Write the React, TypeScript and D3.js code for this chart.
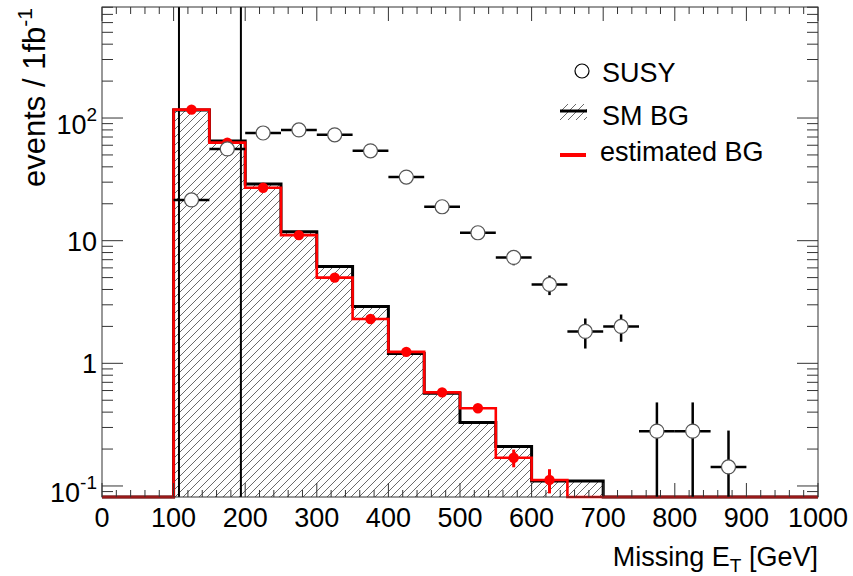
import React from "react";
import * as d3 from "d3";

const W = 853;
const H = 576;
const margin = { top: 7, right: 35, bottom: 79, left: 102 };
const plotW = W - margin.left - margin.right;
const plotH = H - margin.top - margin.bottom;

// 50 GeV bins, low edges
const binLow = [100, 150, 200, 250, 300, 350, 400, 450, 500, 550, 600, 650];
const binWidth = 50;
const smBG = [116, 65, 29, 11.8, 6.15, 2.9, 1.2, 0.57, 0.33, 0.21, 0.11, 0.11];
const estBG = [117, 63, 27, 11.1, 5.0, 2.3, 1.24, 0.58, 0.43, 0.17, 0.112, 0];
const estErr = [3, 2, 1.2, 0.6, 0.3, 0.15, 0.07, 0.04, 0.035, 0.028, 0.025, 0];

const susyX = [125, 175, 225, 275, 325, 375, 425, 475, 525, 575, 625, 675, 725, 775, 825, 875];
const susyY = [21.5, 56, 75.5, 80, 73, 54, 33, 18.9, 11.6, 7.3, 4.4, 1.82, 2.0, 0.28, 0.28, 0.143];
const susyErr = [1.7, 2.8, 3.2, 3.3, 3.2, 2.8, 2.2, 1.6, 1.3, 1.0, 0.8, 0.5, 0.5, 0.2, 0.2, 0.14];

// two long vertical error lines running off the top of the frame
const spikeX = [107.5, 194];

const xTickLabels = [0, 100, 200, 300, 400, 500, 600, 700, 800, 900, 1000];
const yTickLabels = [
  { v: 0.1, base: "10", sup: "-1" },
  { v: 1, base: "1", sup: "" },
  { v: 10, base: "10", sup: "" },
  { v: 100, base: "10", sup: "2" },
];

const x = d3.scaleLinear().domain([0, 1000]).range([margin.left, margin.left + plotW]);
const y = d3.scaleLog().domain([0.0813, 804]).range([margin.top + plotH, margin.top]);
const yMin = y.domain()[0];
const yBottom = margin.top + plotH;

function stepPath(values: number[]) {
  // outline over the full axis range, empty bins sit on the frame bottom
  const pts: [number, number][] = [];
  d3.range(0, 1000, binWidth).forEach((lo) => {
    const i = binLow.indexOf(lo);
    const v = i >= 0 && values[i] > 0 ? values[i] : yMin;
    pts.push([x(lo), y(v)]);
    pts.push([x(lo + binWidth), y(v)]);
  });
  return d3.line()(pts) as string;
}

function hatchPath() {
  const pts: [number, number][] = [];
  binLow.forEach((lo, i) => {
    pts.push([x(lo), y(smBG[i])]);
    pts.push([x(lo + binWidth), y(smBG[i])]);
  });
  return d3
    .area<[number, number]>()
    .x((d) => d[0])
    .y0(yBottom)
    .y1((d) => d[1])(pts) as string;
}

const font = "'Liberation Sans', Arial, Helvetica, sans-serif";
const tickColor = "#333";

export default function App() {
  const xMajor = d3.range(0, 1001, 100);
  const xMinor = d3.range(0, 1001, 20).filter((v) => v % 100 !== 0);
  const yAll = y.ticks().filter((v) => v >= yMin && v <= 804);
  const isMajor = (v: number) => Math.abs(Math.log10(v) - Math.round(Math.log10(v))) < 1e-6;
  const left = margin.left;
  const right = margin.left + plotW;
  const top = margin.top;
  const clampY = (v: number) => Math.min(yBottom, Math.max(top, v));

  return (
    <svg width={W} height={H} style={{ position: "absolute", left: 0, top: 0, background: "#fff" }}>
      <defs>
        <pattern id="hatch" width={8} height={8} patternUnits="userSpaceOnUse">
          <path d="M-1,1 l2,-2 M0,8 l8,-8 M7,9 l2,-2" stroke="#444" strokeWidth={0.8} />
        </pattern>
      </defs>
      <rect x={0} y={0} width={W} height={H} fill="#fff" />

      {/* SM background */}
      <path d={hatchPath()} fill="url(#hatch)" />
      <path d={stepPath(smBG)} fill="none" stroke="#000" strokeWidth={3} />

      {spikeX.map((s) => (
        <line key={s} x1={x(s)} x2={x(s)} y1={top} y2={yBottom} stroke="#000" strokeWidth={2} />
      ))}

      {/* estimated background */}
      <path d={stepPath(estBG)} fill="none" stroke="#ff0000" strokeWidth={2.6} />
      {binLow.map((lo, i) =>
        estBG[i] > 0 ? (
          <g key={lo}>
            <line
              x1={x(lo + binWidth / 2)}
              x2={x(lo + binWidth / 2)}
              y1={y(estBG[i] + estErr[i])}
              y2={y(Math.max(yMin, estBG[i] - estErr[i]))}
              stroke="#ff0000"
              strokeWidth={3}
            />
            <circle cx={x(lo + binWidth / 2)} cy={y(estBG[i])} r={5.2} fill="#ff0000" />
          </g>
        ) : null
      )}

      {/* SUSY */}
      {susyX.map((cx, i) => {
        const lo = susyY[i] - susyErr[i];
        return (
          <g key={cx}>
            <line x1={x(cx - 25)} x2={x(cx + 25)} y1={y(susyY[i])} y2={y(susyY[i])} stroke="#000" strokeWidth={2.5} />
            <line
              x1={x(cx)}
              x2={x(cx)}
              y1={clampY(y(susyY[i] + susyErr[i]))}
              y2={lo > yMin ? y(lo) : yBottom}
              stroke="#000"
              strokeWidth={2.5}
            />
            <circle cx={x(cx)} cy={y(susyY[i])} r={7} fill="#fff" stroke="#555" strokeWidth={1.2} />
          </g>
        );
      })}

      {/* frame */}
      <rect x={left} y={top} width={plotW} height={plotH} fill="none" stroke={tickColor} strokeWidth={1} />

      {/* x ticks */}
      {xMajor.map((v) => (
        <g key={"xM" + v}>
          <line x1={x(v)} x2={x(v)} y1={yBottom} y2={yBottom - 14} stroke={tickColor} />
          <line x1={x(v)} x2={x(v)} y1={top} y2={top + 14} stroke={tickColor} />
        </g>
      ))}
      {xMinor.map((v) => (
        <g key={"xm" + v}>
          <line x1={x(v)} x2={x(v)} y1={yBottom} y2={yBottom - 7} stroke={tickColor} />
          <line x1={x(v)} x2={x(v)} y1={top} y2={top + 7} stroke={tickColor} />
        </g>
      ))}
      {/* y ticks */}
      {yAll.map((v) => {
        const len = isMajor(v) ? 21 : 11;
        return (
          <g key={"y" + v}>
            <line x1={left} x2={left + len} y1={y(v)} y2={y(v)} stroke={tickColor} />
            <line x1={right} x2={right - len} y1={y(v)} y2={y(v)} stroke={tickColor} />
          </g>
        );
      })}

      {/* tick labels */}
      {xTickLabels.map((v) => (
        <text key={"xl" + v} x={x(v)} y={527} textAnchor="middle" fontFamily={font} fontSize={27}>
          {v}
        </text>
      ))}
      {yTickLabels.map((t) => (
        <text
          key={"yl" + t.v}
          x={97}
          y={y(t.v) + (t.sup ? 16 : 10)}
          textAnchor="end"
          fontFamily={font}
          fontSize={27}
        >
          {t.base}
          {t.sup ? (
            <tspan dy={-13} fontSize={19}>
              {t.sup}
            </tspan>
          ) : null}
        </text>
      ))}

      {/* axis titles */}
      <text x={right} y={566} textAnchor="end" fontFamily={font} fontSize={27}>
        Missing E
        <tspan dy={6} fontSize={19}>T</tspan>
        <tspan dy={-6}> [GeV]</tspan>
      </text>
      <text
        transform={`translate(45, ${top + 1}) rotate(-90)`}
        textAnchor="end"
        fontFamily={font}
        fontSize={31}
      >
        events / 1fb
        <tspan dy={-13} fontSize={21}>-1</tspan>
      </text>

      {/* legend */}
      <circle cx={582} cy={71} r={7} fill="#fff" stroke="#000" strokeWidth={1.2} />
      <text x={602} y={82} fontFamily={font} fontSize={27}>SUSY</text>
      <rect x={560} y={104} width={27} height={16} fill="url(#hatch)" />
      <line x1={560} x2={587} y1={111} y2={111} stroke="#000" strokeWidth={3} />
      <text x={602} y={125} fontFamily={font} fontSize={27}>SM BG</text>
      <line x1={560} x2={586} y1={155} y2={155} stroke="#ff0000" strokeWidth={4} />
      <text x={600} y={161} fontFamily={font} fontSize={27}>estimated BG</text>
    </svg>
  );
}
